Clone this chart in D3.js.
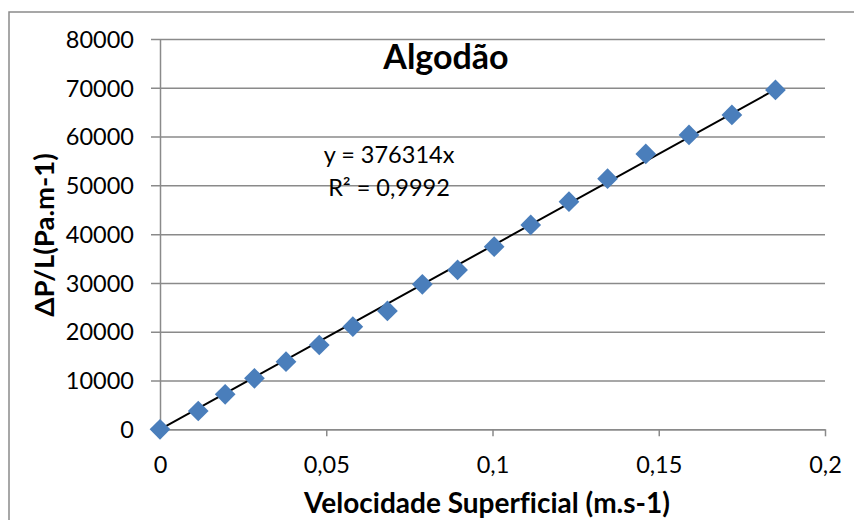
<!DOCTYPE html>
<html>
<head>
<meta charset="utf-8">
<script src="https://cdn.jsdelivr.net/npm/d3@7"></script>
<style>
  html, body { margin: 0; padding: 0; background: #fff; }
  svg { display: block; }
  text { font-family: Lato, "Open Sans", sans-serif; fill: #000; font-variant-ligatures: none; }
</style>
</head>
<body>
<svg id="chart" width="854" height="520"></svg>
<script>
// Superficial velocity (m/s) and pressure drop per length (Pa/m) for cotton bed
const velocity = [0, 0.0115, 0.0196, 0.0284, 0.0379, 0.0479, 0.0580, 0.0684, 0.0789,
  0.0895, 0.1005, 0.1115, 0.1230, 0.1346, 0.1461, 0.1591, 0.1720, 0.1851];
const pressureDrop = [0, 3750, 7180, 10450, 13860, 17280, 21030, 24250, 29720,
  32660, 37430, 41880, 46660, 51370, 56440, 60330, 64430, 69560];
const slope = 376314;
const xTicks = [0, 0.05, 0.1, 0.15, 0.2];
const yTicks = [0, 10000, 20000, 30000, 40000, 50000, 60000, 70000, 80000];
const titleText = "Algodão";
const xTitle = "Velocidade Superficial (m.s-1)";
const yTitle = "ΔP/L(Pa.m-1)";
const equationLines = ["y = 376314x", "R² = 0,9992"];

const svg = d3.select("#chart");
const plot = { left: 160, right: 825, top: 39, bottom: 429.3 };
const gridColor = "#8a8a8a";

const x = d3.scaleLinear().domain([0, 0.2]).range([plot.left, plot.right]);
const y = d3.scaleLinear().domain([0, 80000]).range([plot.bottom, plot.top]);

const fmtX = v => String(v).replace(".", ",");

// chart frame
svg.append("rect")
  .attr("x", 9).attr("y", 12).attr("width", 900).attr("height", 600)
  .attr("fill", "#fff").attr("stroke", gridColor).attr("stroke-width", 1.5);

// y axis with gridlines
const yAxis = d3.axisLeft(y).tickValues(yTicks).tickFormat(d3.format("d"))
  .tickSizeInner(-(plot.right - plot.left)).tickSizeOuter(0).tickPadding(0);
const gy = svg.append("g").attr("transform", `translate(${plot.left},0)`).call(yAxis);
gy.select(".domain").attr("stroke", gridColor).attr("stroke-width", 1.5);
gy.selectAll(".tick line")
  .attr("x1", -9).attr("x2", plot.right - plot.left)
  .attr("stroke", gridColor).attr("stroke-width", 1.5);
gy.selectAll(".tick text")
  .attr("x", -26).attr("dy", "0.35em")
  .style("font-family", "Lato").style("font-size", "23.5px").attr("fill", "#000");

// x axis
const xAxis = d3.axisBottom(x)
  .tickValues(xTicks).tickFormat(fmtX).tickSizeInner(7).tickSizeOuter(0).tickPadding(0);
const gx = svg.append("g").attr("transform", `translate(0,${plot.bottom})`).call(xAxis);
gx.select(".domain").attr("stroke", gridColor).attr("stroke-width", 1.5);
gx.selectAll(".tick line").attr("stroke", gridColor).attr("stroke-width", 1.5);
gx.selectAll(".tick text")
  .attr("y", 27).attr("dy", "0.71em")
  .style("font-family", "Lato").style("font-size", "23.5px").attr("fill", "#000");

// linear trend line through the origin
const xMax = d3.max(velocity);
svg.append("line")
  .attr("x1", x(0)).attr("y1", y(0))
  .attr("x2", x(xMax)).attr("y2", y(slope * xMax))
  .attr("stroke", "#000").attr("stroke-width", 2);

// diamond markers
const diamond = d3.symbol().type(d3.symbolSquare).size(215);
svg.append("g").selectAll("path")
  .data(velocity.map((v, i) => [v, pressureDrop[i]]))
  .join("path")
  .attr("d", diamond)
  .attr("transform", d => `translate(${x(d[0])},${y(d[1])}) rotate(45)`)
  .attr("fill", "#4a7ebb");

// trend equation
svg.append("g").selectAll("text")
  .data(equationLines)
  .join("text")
  .attr("x", 389).attr("y", (d, i) => 163 + i * 33)
  .attr("text-anchor", "middle")
  .style("font-size", "23.5px")
  .text(d => d);

// titles
svg.append("text")
  .attr("x", 446).attr("y", 69).attr("text-anchor", "middle")
  .style("font-size", "34px").style("font-weight", "bold")
  .text(titleText);

svg.append("text")
  .attr("x", 487).attr("y", 513).attr("text-anchor", "middle")
  .style("font-size", "28px").style("font-weight", "bold")
  .text(xTitle);

svg.append("text")
  .attr("transform", "translate(54,235) rotate(-90)")
  .attr("text-anchor", "middle")
  .style("font-size", "27.5px").style("font-weight", "bold")
  .text(yTitle);
</script>
</body>
</html>
